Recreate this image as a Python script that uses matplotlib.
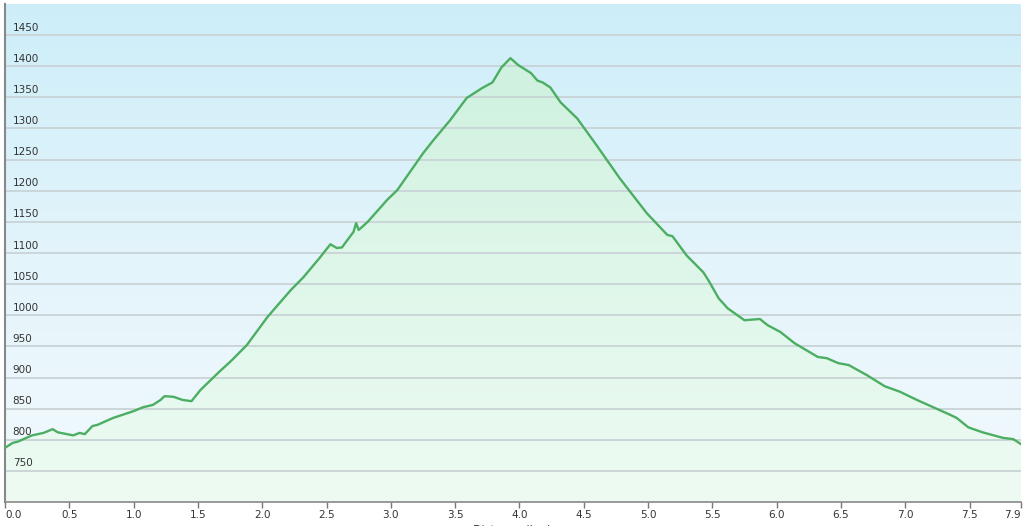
import numpy as np
import matplotlib
matplotlib.use("Agg")
import matplotlib.pyplot as plt
from matplotlib.colors import LinearSegmentedColormap
from matplotlib.patches import PathPatch

distance = [0.00, 0.06, 0.10, 0.21, 0.30, 0.37, 0.41, 0.53, 0.58, 0.62, 0.68, 0.72,
            0.84, 1.00, 1.07, 1.15, 1.21, 1.24, 1.31, 1.38, 1.45, 1.52, 1.67, 1.75,
            1.88, 2.04, 2.22, 2.32, 2.45, 2.53, 2.58, 2.62, 2.71, 2.73, 2.75, 2.82,
            2.97, 3.05, 3.25, 3.33, 3.46, 3.59, 3.71, 3.79, 3.86, 3.93, 3.99, 4.09,
            4.14, 4.18, 4.24, 4.32, 4.45, 4.60, 4.78, 4.99, 5.15, 5.19, 5.30, 5.43,
            5.47, 5.55, 5.62, 5.75, 5.87, 5.93, 6.03, 6.14, 6.32, 6.39, 6.48, 6.56,
            6.70, 6.84, 6.96, 7.09, 7.35, 7.40, 7.49, 7.60, 7.76, 7.84, 7.90]
elevation = [787, 795, 797, 807, 811, 817, 812, 807, 811, 809, 822, 824,
             835, 846, 852, 856, 864, 870, 869, 864, 862, 880, 910, 925,
             952, 997, 1040, 1061, 1093, 1114, 1108, 1109, 1134, 1148, 1137, 1150,
             1185, 1201, 1260, 1281, 1313, 1349, 1365, 1374, 1398, 1413, 1402, 1389,
             1377, 1374, 1366, 1342, 1316, 1273, 1220, 1164, 1129, 1127, 1096, 1069,
             1056, 1027, 1011, 992, 994, 984, 973, 955, 933, 931, 923, 920,
             904, 886, 877, 864, 840, 835, 820, 812, 803, 801, 793]

y_ticks = [750, 800, 850, 900, 950, 1000, 1050, 1100, 1150, 1200, 1250, 1300, 1350, 1400, 1450]
x_ticks = [0.0, 0.5, 1.0, 1.5, 2.0, 2.5, 3.0, 3.5, 4.0, 4.5, 5.0, 5.5, 6.0, 6.5, 7.0, 7.5, 7.9]
x_labels = ["0.0", "0.5", "1.0", "1.5", "2.0", "2.5", "3.0", "3.5", "4.0", "4.5",
            "5.0", "5.5", "6.0", "6.5", "7.0", "7.5", "7.9"]

XMIN, XMAX, YMIN, YMAX = 0.0, 7.9, 700, 1500

fig = plt.figure(figsize=(10.24, 5.26), dpi=100)
ax = fig.add_axes([5 / 1024, 24 / 526, 1016 / 1024, 498 / 526])
ax.set_xlim(XMIN, XMAX)
ax.set_ylim(YMIN, YMAX)

# background gradient (light blue at top -> near white at bottom)
bg = LinearSegmentedColormap.from_list("bg", ["#f3fafd", "#e3f4fb", "#cdeef9"])
grad = np.linspace(0, 1, 256).reshape(-1, 1)
ax.imshow(grad, cmap=bg, aspect="auto", origin="lower",
          extent=[XMIN, XMAX, YMIN, YMAX], zorder=0)

# filled area gradient clipped to the profile
fillcm = LinearSegmentedColormap.from_list("fill", ["#eefbf3", "#dff7ea", "#cff1df"])
im = ax.imshow(grad, cmap=fillcm, aspect="auto", origin="lower",
               extent=[XMIN, XMAX, YMIN, max(elevation)], zorder=1)
poly = ax.fill_between(distance, elevation, YMIN, color="none", lw=0)
path = poly.get_paths()[0]
patch = PathPatch(path, transform=ax.transData, facecolor="none", edgecolor="none")
ax.add_patch(patch)
im.set_clip_path(patch)

# gridlines with labels sitting just above them
for yv in y_ticks:
    ax.axhline(yv, color="#c9d3d6", lw=1.3, zorder=2)
    ax.text(0.06, yv + 4, str(yv), fontsize=7.5, color="#333333",
            ha="left", va="bottom", zorder=4, family="DejaVu Sans")

ax.plot(distance, elevation, color="#4cae62", lw=1.7, zorder=3, solid_joinstyle="round")

ax.set_yticks([])
ax.set_xticks(x_ticks)
ax.set_xticklabels(x_labels, fontsize=7.5, color="#333333")
ax.tick_params(axis="x", length=4, width=1, color="#777777", pad=1.5)
tl = ax.get_xticklabels()
tl[0].set_ha("left")
tl[-1].set_ha("right")

for s in ["top", "right"]:
    ax.spines[s].set_visible(False)
ax.spines["left"].set_color("#888888")
ax.spines["left"].set_linewidth(1.5)
ax.spines["bottom"].set_color("#888888")
ax.spines["bottom"].set_linewidth(1.2)

# axis title, partly cut off by the bottom edge as in the reference
fig.text(0.5, -3 / 526, "Distance (km)", fontsize=8, color="#333333", ha="center", va="center")

fig.savefig("out.png", dpi=100)
